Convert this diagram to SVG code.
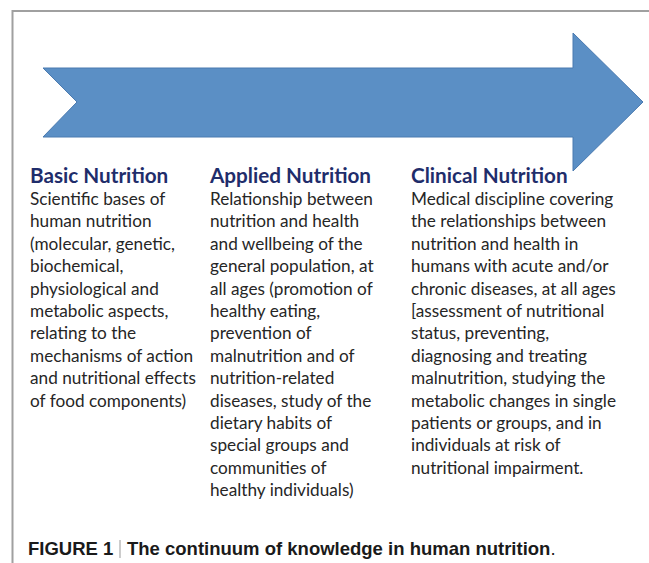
<svg xmlns="http://www.w3.org/2000/svg" width="649" height="563" viewBox="0 0 649 563">
<style>
.h{font-family:Lato,"Open Sans",sans-serif;font-weight:bold;font-size:20.7px;fill:#1f2d6b}
.b{font-family:Lato,"Open Sans",sans-serif;font-size:17.2px;fill:#262626}
.c{font-family:"Liberation Sans",Arial,sans-serif;font-weight:bold;font-size:18.5px;fill:#1a1a1a}
</style>
<rect width="649" height="563" fill="#fff"/>
<path d="M12.5,563 V11 H649" fill="none" stroke="#a0a0a0" stroke-width="2"/>
<g id="arrow">
<polygon points="43,68 573,68 573,33 643,102 573,171 573,137 43,137 77,102" fill="#5b8fc5" stroke="#4a7ab0" stroke-width="1"/>
</g>
<g id="basic">
<text class="h" x="30" y="183">Basic Nutrition</text>
<text class="b" x="30" y="205">Scientific bases of</text>
<text class="b" x="30" y="227.4">human nutrition</text>
<text class="b" x="30" y="249.8">(molecular, genetic,</text>
<text class="b" x="30" y="272.2">biochemical,</text>
<text class="b" x="30" y="294.6">physiological and</text>
<text class="b" x="30" y="317">metabolic aspects,</text>
<text class="b" x="30" y="339.4">relating to the</text>
<text class="b" x="30" y="361.8">mechanisms of action</text>
<text class="b" x="30" y="384.2">and nutritional effects</text>
<text class="b" x="30" y="406.6">of food components)</text>
</g>
<g id="applied">
<text class="h" x="210" y="183">Applied Nutrition</text>
<text class="b" x="210" y="205">Relationship between</text>
<text class="b" x="210" y="227.4">nutrition and health</text>
<text class="b" x="210" y="249.8">and wellbeing of the</text>
<text class="b" x="210" y="272.2">general population, at</text>
<text class="b" x="210" y="294.6">all ages (promotion of</text>
<text class="b" x="210" y="317">healthy eating,</text>
<text class="b" x="210" y="339.4">prevention of</text>
<text class="b" x="210" y="361.8">malnutrition and of</text>
<text class="b" x="210" y="384.2">nutrition-related</text>
<text class="b" x="210" y="406.6">diseases, study of the</text>
<text class="b" x="210" y="429">dietary habits of</text>
<text class="b" x="210" y="451.4">special groups and</text>
<text class="b" x="210" y="473.8">communities of</text>
<text class="b" x="210" y="496.2">healthy individuals)</text>
</g>
<g id="clinical">
<text class="h" x="411" y="183">Clinical Nutrition</text>
<text class="b" x="411" y="205">Medical discipline covering</text>
<text class="b" x="411" y="227.4">the relationships between</text>
<text class="b" x="411" y="249.8">nutrition and health in</text>
<text class="b" x="411" y="272.2">humans with acute and/or</text>
<text class="b" x="411" y="294.6">chronic diseases, at all ages</text>
<text class="b" x="411" y="317">[assessment of nutritional</text>
<text class="b" x="411" y="339.4">status, preventing,</text>
<text class="b" x="411" y="361.8">diagnosing and treating</text>
<text class="b" x="411" y="384.2">malnutrition, studying the</text>
<text class="b" x="411" y="406.6">metabolic changes in single</text>
<text class="b" x="411" y="429">patients or groups, and in</text>
<text class="b" x="411" y="451.4">individuals at risk of</text>
<text class="b" x="411" y="473.8">nutritional impairment.</text>
</g>
<g id="caption">
<text class="c" x="28" y="555">FIGURE 1</text>
<line x1="120" y1="540" x2="120" y2="558" stroke="#999" stroke-width="1"/>
<text class="c" x="127" y="555">The continuum of knowledge in human nutrition<tspan font-weight="normal">.</tspan></text>
</g>
</svg>
